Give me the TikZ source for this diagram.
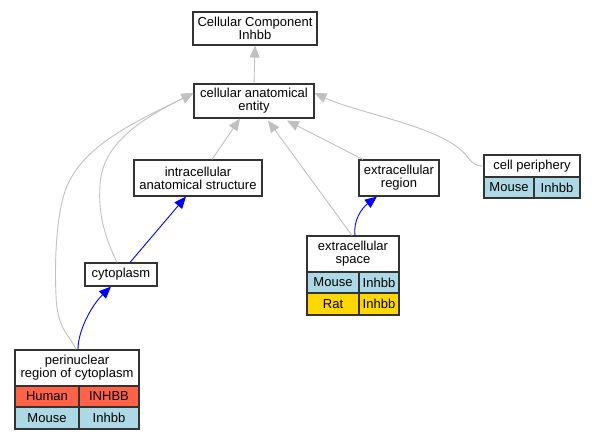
\documentclass[tikz,border=0pt]{standalone}
\usepackage{fontspec}
\setmainfont{Liberation Sans}
\usetikzlibrary{arrows.meta}
\definecolor{edgegray}{HTML}{C0C0C0}
\definecolor{tomatoc}{HTML}{FF6347}
\definecolor{lblue}{HTML}{ADD8E6}
\definecolor{goldc}{HTML}{FFD700}
\definecolor{bordc}{HTML}{333333}
\tikzset{
  box/.style={draw=bordc, line width=1.1pt, fill=white, inner sep=0pt, align=center,
    font=\fontsize{13}{13}\selectfont},
  cell/.style={box},
  isa/.style={draw=edgegray, line width=0.9pt, -{Triangle[length=12pt,width=10pt]}},
  partof/.style={draw=blue, line width=0.9pt, -{Triangle[length=12pt,width=10pt]}},
}
\begin{document}
\begin{tikzpicture}[x=1pt,y=-1pt]
\useasboundingbox (0,0) rectangle (592,440);
% simple nodes
\node[box, minimum width=124pt, minimum height=33pt] (cc) at (255,28.5) {Cellular Component\\Inhbb};
\node[box, minimum width=120pt, minimum height=34pt] (cae) at (254,101) {cellular anatomical\\entity};
\node[box, minimum width=128pt, minimum height=36pt] (ias) at (198,178) {intracellular\\anatomical structure};
\node[box, minimum width=80pt, minimum height=36pt] (er) at (399,178) {extracellular\\region};
\node[box, minimum width=72pt, minimum height=23pt] (cyt) at (121,274.5) {cytoplasm};
% cell periphery table
\node[box, minimum width=96pt, minimum height=22pt] (cp) at (532,166) {cell periphery};
\node[cell, fill=lblue, minimum width=50pt, minimum height=21pt] (cp1) at (509,187.5) {Mouse};
\node[cell, fill=lblue, minimum width=46pt, minimum height=21pt] (cp2) at (557,187.5) {Inhbb};
% extracellular space table
\node[box, minimum width=92pt, minimum height=36pt] (es) at (353,254) {extracellular\\space};
\node[cell, fill=lblue, minimum width=52pt, minimum height=21pt] (es1) at (333,282.5) {Mouse};
\node[cell, fill=lblue, minimum width=40pt, minimum height=21pt] (es2) at (379,282.5) {Inhbb};
\node[cell, fill=goldc, minimum width=52pt, minimum height=22pt] (es3) at (333,304) {Rat};
\node[cell, fill=goldc, minimum width=40pt, minimum height=22pt] (es4) at (379,304) {Inhbb};
% perinuclear table
\node[box, minimum width=124pt, minimum height=36pt] (pr) at (77,368) {perinuclear\\region of cytoplasm};
\node[cell, fill=tomatoc, minimum width=64pt, minimum height=21pt] (pr1) at (47,396.5) {Human};
\node[cell, fill=tomatoc, minimum width=60pt, minimum height=21pt] (pr2) at (109,396.5) {INHBB};
\node[cell, fill=lblue, minimum width=64pt, minimum height=22pt] (pr3) at (47,418) {Mouse};
\node[cell, fill=lblue, minimum width=60pt, minimum height=22pt] (pr4) at (109,418) {Inhbb};
% edges
\draw[isa] (cae.north) -- (cc.south);
\draw[isa] ([xshift=14pt]ias.north) -- ([xshift=-14pt]cae.south);
\draw[isa] ([xshift=-36pt]er.north) -- ([xshift=33pt,yshift=-2pt]cae.south);
\draw[isa] ([xshift=-1pt]es.north) -- ([xshift=14pt,yshift=-2pt]cae.south);
\draw[isa] (cp.west) .. controls +(-10,0) and (472,162) .. (465,154)
  .. controls (440,126) and (360,114) .. ([yshift=8pt]cae.east);
\draw[isa] ([xshift=-4pt]cyt.north) .. controls (105,237) and (98,215) .. (100,185)
  .. controls (102,140) and (150,115) .. ([yshift=8pt]cae.west);
\draw[isa] ([xshift=-1pt]pr.north) .. controls (70,335) and (57,330) .. (56,295)
  .. controls (54,250) and (58,200) .. (70,180)
  .. controls (90,140) and (150,115) .. ([yshift=8pt]cae.west);
\draw[partof] ([xshift=9pt]cyt.north) -- ([xshift=-12pt]ias.south);
\draw[partof] ([xshift=1pt]pr.north) .. controls (78,330) and (92,305) .. ([xshift=-10pt]cyt.south);
\draw[partof] ([xshift=2pt]es.north) .. controls (353,220) and (362,208) .. ([xshift=-22pt]er.south);
\end{tikzpicture}
\end{document}
